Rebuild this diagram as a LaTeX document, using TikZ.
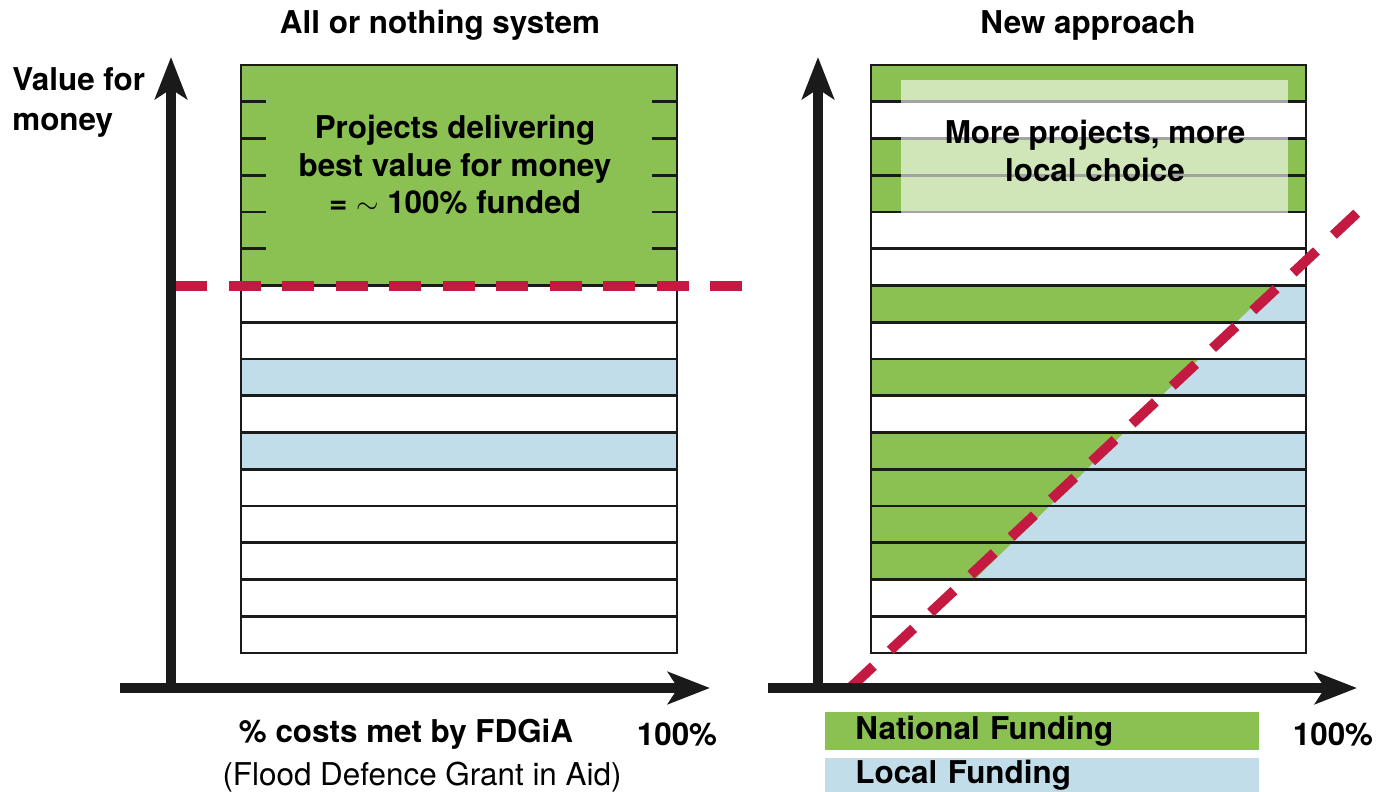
\documentclass[tikz,border=0pt]{standalone}
\usepackage{fontspec}
\setmainfont{TeX Gyre Heros}
\usetikzlibrary{arrows.meta,positioning}
\definecolor{natgreen}{RGB}{139,193,82}
\definecolor{locblue}{RGB}{193,221,234}
\definecolor{cutred}{RGB}{196,26,66}
\definecolor{inkblack}{RGB}{26,26,26}

\begin{document}
\begin{tikzpicture}[x=0.5pt, y=-0.5pt, >={Stealth[length=21pt,width=16pt,inset=5pt]},
  font=\fontsize{15.7}{18.75}\selectfont\bfseries]
\tikzstyle{row}=[draw=inkblack, line width=1.3pt]
\tikzstyle{axis}=[->, draw=inkblack, line width=5pt]
\tikzstyle{cutoff}=[draw=cutred, line width=5pt, dash pattern=on 16pt off 10.75pt]
\tikzstyle{label}=[align=center, inner sep=0pt]
\tikzstyle{key}=[anchor=north west, inner ysep=0pt, inner xsep=15pt, text width=187pt, align=left]
\useasboundingbox (0,0) rectangle (1388,792);

% all or nothing
\fill[natgreen] (241,65) rectangle (677,286);
\foreach \k in {8,10}
  \fill[locblue] (241,{65+36.75*\k}) rectangle (677,{65+36.75*(\k+1)});
\foreach \k in {1,...,5} {
  \draw[row] (241,{65+36.75*\k}) -- ++(25,0);
  \draw[row] (677,{65+36.75*\k}) -- ++(-25,0);
}
\draw[row] (241,65) rectangle (677,286);
\foreach \k in {6,...,15}
  \draw[row] (241,{65+36.75*\k}) rectangle (677,{65+36.75*(\k+1)});
\draw[cutoff] (175,286) -- (743,286);

% new approach
\foreach \k in {0,2,3}
  \fill[natgreen] (871,{65+36.75*\k}) rectangle (1306,{65+36.75*(\k+1)});
\foreach \k in {6,8,10,11,12,13}
  \fill[locblue] (871,{65+36.75*\k}) rectangle (1306,{65+36.75*(\k+1)});
\begin{scope}
  \clip (871,65) -- (1498,65) -- (900,653) -- (871,653) -- cycle;
  \foreach \k in {6,8,10,11,12,13}
    \fill[natgreen] (871,{65+36.75*\k}) rectangle (1306,{65+36.75*(\k+1)});
\end{scope}
\foreach \k in {0,...,15}
  \draw[row] (871,{65+36.75*\k}) rectangle (1306,{65+36.75*(\k+1)});
\fill[white, fill opacity=0.6] (901,80) rectangle (1288,214);
\draw[cutoff, dash pattern=on 16pt off 11.6pt] (850,688) -- (1358,212);

% axes
\draw[axis] (171,688) -- (171,57);
\draw[axis] (120,688) -- (710,688);
\draw[axis] (818,688) -- (818,57);
\draw[axis] (768,688) -- (1357,688);

% texts
\node[label] (lefttitle)  at (440,25)  {All or nothing system};
\node[label] (righttitle) at (1088,25) {New approach};
\node[label, align=left, anchor=west] (vfm) at (12,102) {Value for\\[1.25pt]money};
\node[label] (bestvalue) at (455,165) {Projects delivering\\best value for money\\= $\sim$ 100\% funded};
\node[label] (morelocal) at (1095,151) {More projects, more\\local choice};
\node[label] (xlabel) at (406,734) {\% costs met by FDGiA};
\node[label, font=\fontsize{15.7}{18.75}\selectfont\mdseries] (xsub) at (422,777) {(Flood Defence Grant in Aid)};
\node[label] (leftfull)  at (677,734)  {100\%};
\node[label] (rightfull) at (1333,734) {100\%};

% legend
\node[key, fill=natgreen, minimum height=19pt] (natkey) at (825,712) {\raisebox{-2pt}{National Funding}};
\node[key, fill=locblue, minimum height=17pt] (lockey) at (825,758) {\raisebox{-2pt}{Local Funding}};
\end{tikzpicture}
\end{document}
